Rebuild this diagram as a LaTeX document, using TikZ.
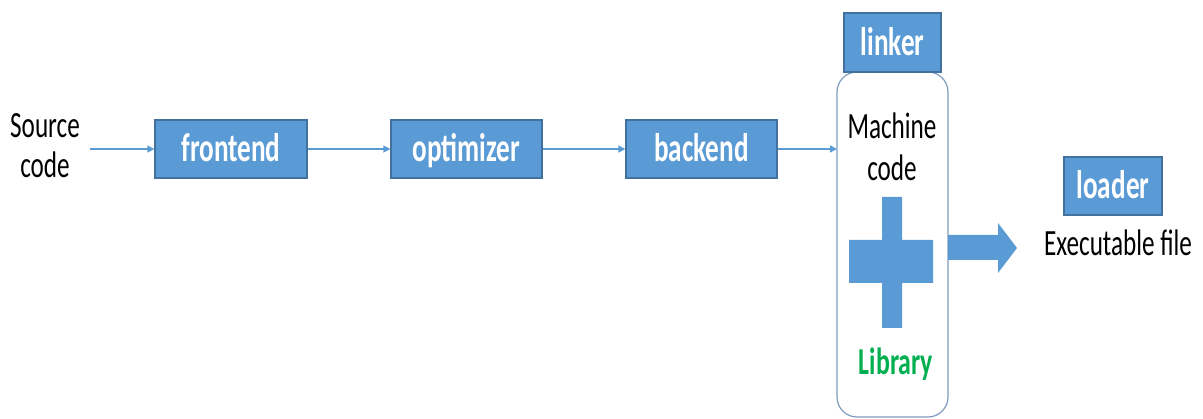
\documentclass[tikz,border=0pt]{standalone}
\usepackage{fontspec}
\setmainfont{Carlito}
\usepackage{graphicx}
\usetikzlibrary{arrows.meta}
\definecolor{boxblue}{HTML}{5B9BD5}
\definecolor{edgeblue}{HTML}{41719C}
\definecolor{libgreen}{HTML}{00B050}
\definecolor{contline}{HTML}{7F9CC0}
\newcommand\sq[1]{\scalebox{0.68}[1]{#1}}
\tikzset{
  stagebox/.style={draw=edgeblue, line width=1.3pt, fill=boxblue, text=white,
    font=\fontsize{40}{44}\selectfont\bfseries, inner sep=0pt,
    text height=26pt, text depth=0pt},
  plaintext/.style={font=\fontsize{37}{40}\selectfont, inner sep=0pt, align=center},
  flow/.style={draw=boxblue, line width=1.5pt, -{Triangle[length=7pt,width=7pt]}},
}
\begin{document}
\begin{tikzpicture}[x=1pt,y=-1pt]
\useasboundingbox (0,0) rectangle (1203,419);
% container
\draw[contline, line width=1.2pt, fill=white, rounded corners=20pt] (837,72) rectangle (948,417);
\node[stagebox, minimum width=97pt, minimum height=59pt] (linker) at (892.5,42.5) {\sq{linker}};
\path (837,72) coordinate (cnw) (837,417) coordinate (csw);
\node[stagebox, minimum width=152pt, minimum height=58pt] (frontend) at (231,149) {\sq{frontend}};
\node[stagebox, minimum width=151pt, minimum height=58pt] (optimizer) at (466.5,149) {\sq{optimizer}};
\node[stagebox, minimum width=151pt, minimum height=58pt] (backend) at (701.5,149) {\sq{backend}};
\node[stagebox, minimum width=98pt, minimum height=58pt] (loader) at (1113,186) {\sq{loader}};
\node[plaintext] (src) at (45,146) {\sq{Source}\\\sq{code}};
\node[plaintext, font=\fontsize{37}{42}\selectfont] (mc) at (892,147) {\sq{Machine}\\\sq{code}};
\node[plaintext, font=\fontsize{38}{40}\selectfont\bfseries, text=libgreen] (lib) at (896,364) {\sq{Library}};
\node[plaintext] (exe) at (1118,243) {\sq{Executable file}};
% plus
\fill[boxblue] (882,197) -- (902,197) -- (902,240) -- (933,240) -- (933,283) -- (902,283) -- (902,328) -- (882,328) -- (882,283) -- (849,283) -- (849,240) -- (882,240) -- cycle;
% block arrow
\fill[boxblue] (948,235) -- (998,235) -- (998,223) -- (1017,248) -- (998,273) -- (998,260) -- (948,260) -- cycle;
% flows
\coordinate (srcend) at (90,149);
\draw[flow] (srcend) -- (frontend.west);
\draw[flow] (frontend.east) -- (optimizer.west);
\draw[flow] (optimizer.east) -- (backend.west);
\draw[flow] (backend.east) -- (backend.east -| cnw);
\end{tikzpicture}
\end{document}
